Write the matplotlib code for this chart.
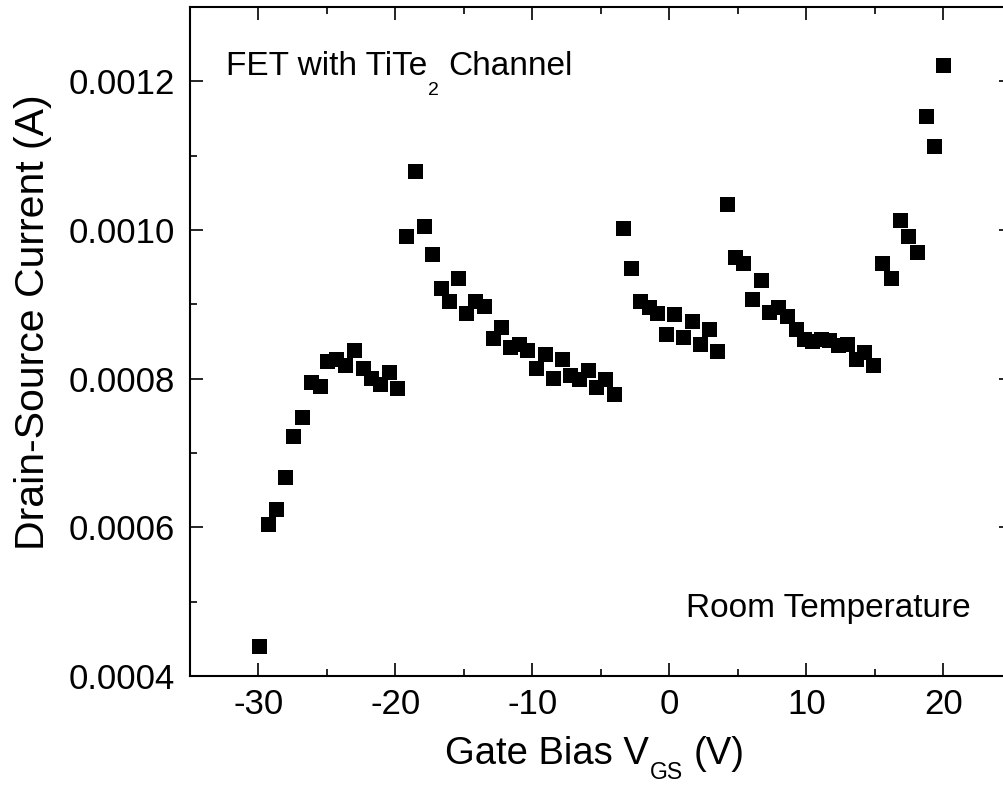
import numpy as np
import matplotlib
matplotlib.use("Agg")
import matplotlib.pyplot as plt
from matplotlib.ticker import MultipleLocator, FormatStrFormatter

plt.rcParams['font.family'] = ['Liberation Sans', 'DejaVu Sans']
plt.rcParams['axes.unicode_minus'] = False

# gate bias (V) and drain-source current (A)
vgs = [-29.96, -29.34, -28.69, -28.08, -27.45, -26.79, -26.14, -25.51, -24.97, -24.31,
       -23.71, -23.03, -22.40, -21.76, -21.14, -20.50, -19.87,
       -19.21, -18.59, -17.95, -17.35, -16.66, -16.08, -15.45, -14.84, -14.21,
       -13.56, -12.90, -12.29, -11.66, -11.00, -10.39, -9.72, -9.11, -8.50,
       -7.84, -7.24, -6.63, -5.97, -5.34, -4.69, -4.08,
       -3.43, -2.79, -2.14, -1.53, -0.92, -0.26, 0.36, 0.98, 1.63, 2.24, 2.89, 3.50,
       4.18, 4.79, 5.39, 6.05, 6.68, 7.29, 7.95, 8.56, 9.21, 9.82, 10.42, 11.06,
       11.66, 12.32, 12.93, 13.59, 14.21, 14.87,
       15.52, 16.16, 16.81, 17.42, 18.08, 18.69, 19.31, 19.97]
ids = [0.000441, 0.000605, 0.000624, 0.000668, 0.000723, 0.000749, 0.000796, 0.000790, 0.000824, 0.000827,
       0.000818, 0.000839, 0.000815, 0.000801, 0.000793, 0.000809, 0.000787,
       0.000992, 0.001079, 0.001006, 0.000968, 0.000922, 0.000904, 0.000936, 0.000889, 0.000904,
       0.000898, 0.000855, 0.000870, 0.000843, 0.000847, 0.000838, 0.000815, 0.000833, 0.000801,
       0.000827, 0.000805, 0.000800, 0.000811, 0.000789, 0.000800, 0.000780,
       0.001003, 0.000949, 0.000904, 0.000896, 0.000888, 0.000860, 0.000887, 0.000856, 0.000878, 0.000847, 0.000867, 0.000837,
       0.001035, 0.000964, 0.000956, 0.000907, 0.000933, 0.000890, 0.000896, 0.000884, 0.000867, 0.000853, 0.000851, 0.000854,
       0.000852, 0.000845, 0.000847, 0.000827, 0.000836, 0.000819,
       0.000956, 0.000936, 0.001014, 0.000992, 0.000970, 0.001153, 0.001113, 0.001222]

fig = plt.figure(figsize=(10.04, 7.86), dpi=100)
# right spine falls just outside the picture, as in the original crop
ax = fig.add_axes([190/1004, 110/786, 822/1004, 669/786])

ax.plot(vgs, ids, 's', color='black', ms=10.8, mew=0)

ax.set_xlim(-35, 25)
ax.set_ylim(0.0004, 0.0013)
ax.xaxis.set_major_locator(MultipleLocator(10))
ax.xaxis.set_minor_locator(MultipleLocator(5))
ax.yaxis.set_major_locator(MultipleLocator(0.0002))
ax.yaxis.set_minor_locator(MultipleLocator(0.0001))
ax.yaxis.set_major_formatter(FormatStrFormatter('%.4f'))

for s in ax.spines.values():
    s.set_linewidth(1.5)
ax.tick_params(which='both', direction='in', top=True, right=True, width=1.2, colors='black')
ax.tick_params(which='major', length=9.5, labelsize=25, pad=9)
ax.tick_params(which='minor', length=5)
ax.tick_params(axis='y', which='major', pad=11)

ax.set_ylabel('Drain-Source Current (A)', fontsize=29.5)
ax.yaxis.set_label_coords(-0.168, 0.529)


def subscripted(x, y, main, sub, tail, size, subsize, drop, gap):
    # main text, then a lowered subscript, then the rest back on the baseline
    t1 = ax.text(x, y, main, fontsize=size, va='baseline', ha='left',
                 transform=fig.transFigure)
    t2 = ax.annotate(sub, xy=(1, 0), xycoords=t1, xytext=(0.5, -drop),
                     textcoords='offset points', fontsize=subsize,
                     va='baseline', ha='left', annotation_clip=False)
    ax.annotate(tail, xy=(1, 0), xycoords=(t2, t1), xytext=(gap, 0),
                textcoords='offset points', fontsize=size,
                va='bottom', ha='left', annotation_clip=False)


# x axis label: Gate Bias V_GS (V)
subscripted(445/1004, 22/786, 'Gate Bias V', 'GS', '(V)', 27.5, 16.5, 5.0, 8)
# annotations
subscripted(226/1004, 711/786, 'FET with TiTe', '2', 'Channel', 24, 14, 9.4, 7)
ax.text(0.603, 0.088, 'Room Temperature', transform=ax.transAxes,
        fontsize=24, va='baseline', ha='left')

fig.savefig('out.png', dpi=100)
